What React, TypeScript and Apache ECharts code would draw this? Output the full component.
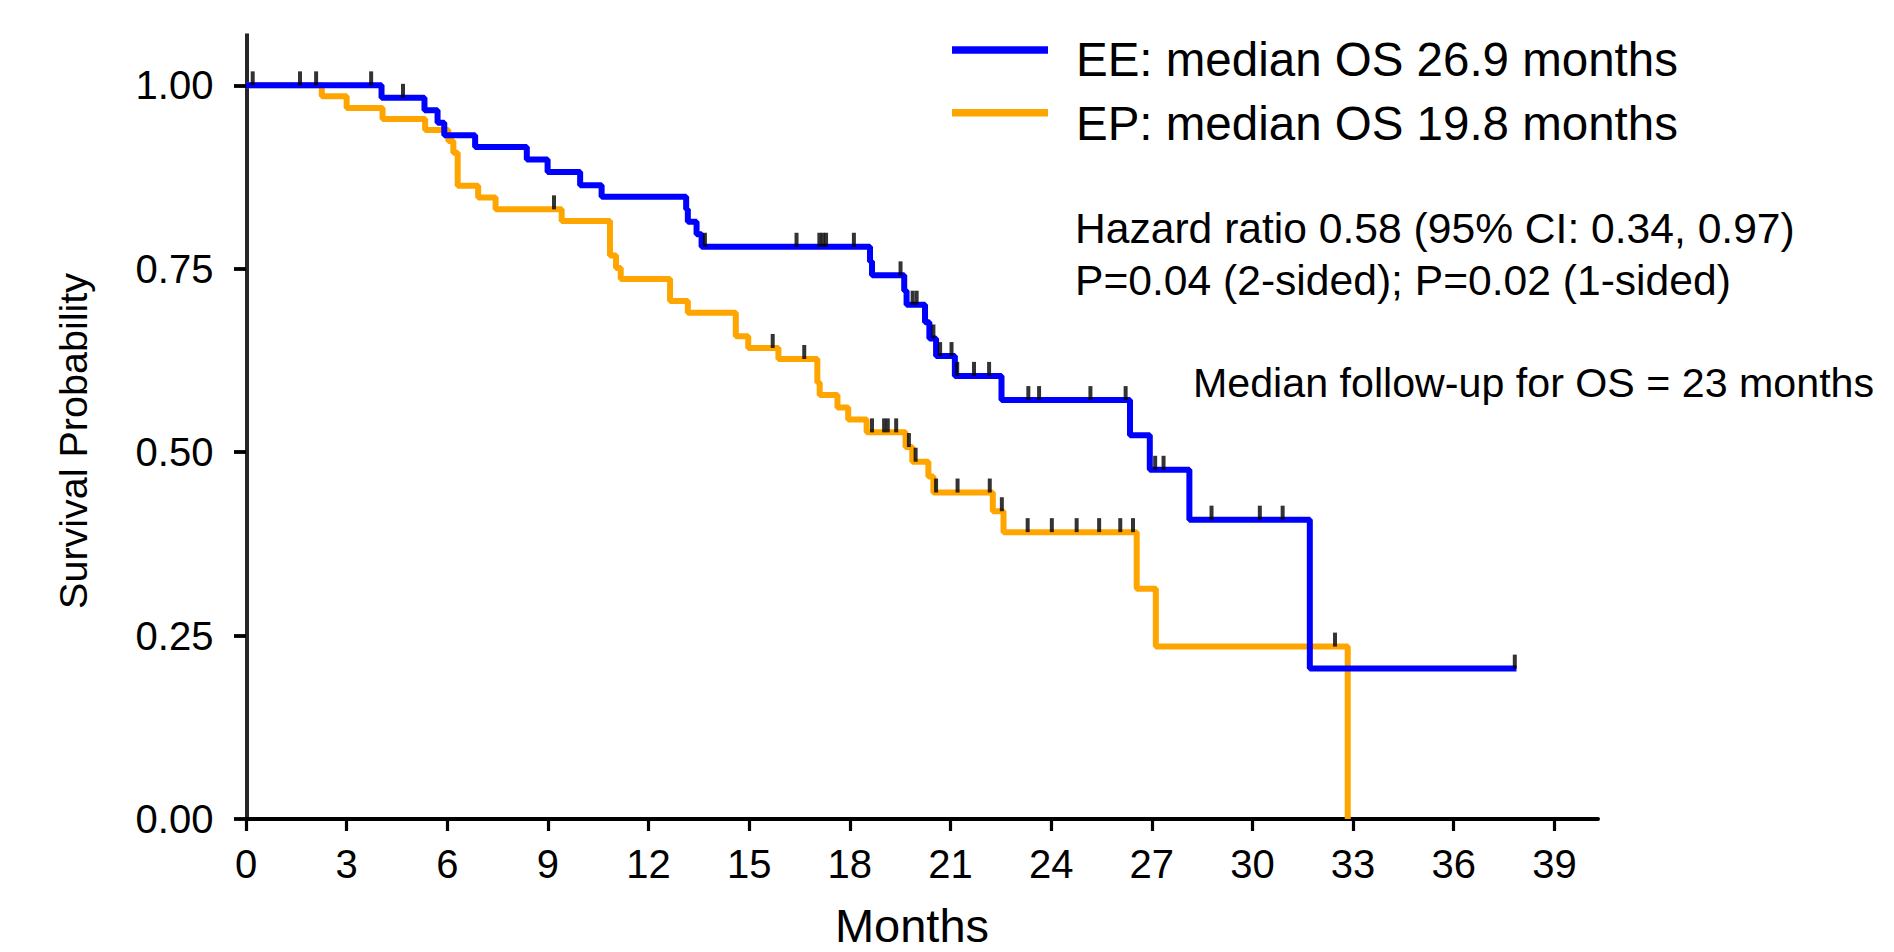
import React, { useEffect, useRef } from "react";
import * as echarts from "echarts";

const FONT = "'Liberation Sans', Arial, Helvetica, sans-serif";

// Axis ticks
const xTicks = [0, 3, 6, 9, 12, 15, 18, 21, 24, 27, 30, 33, 36, 39];
const yTicks = [0, 0.25, 0.5, 0.75, 1.0];

// EE arm (Kaplan-Meier steps: time in months, survival after the drop)
const eeTimes = [0, 4.04, 5.32, 5.71, 5.91, 6.83, 8.37, 8.99, 9.96, 10.6, 13.12, 13.17, 13.43, 13.58, 18.6, 18.66, 19.62, 19.69, 20.24, 20.37, 20.57, 21.13, 22.52, 26.35, 26.94, 28.12, 31.71, 37.87];
const eeSurv = [1.0, 0.983, 0.966, 0.949, 0.932, 0.916, 0.899, 0.882, 0.864, 0.848, 0.831, 0.814, 0.797, 0.78, 0.76, 0.741, 0.72, 0.701, 0.677, 0.655, 0.631, 0.604, 0.571, 0.523, 0.476, 0.408, 0.205, 0.205];

// EP arm
const epTimes = [0, 2.26, 3.0, 4.07, 5.34, 6.03, 6.18, 6.31, 6.92, 7.44, 9.41, 10.85, 11.03, 11.17, 12.64, 13.17, 14.6, 14.97, 15.87, 17.03, 17.1, 17.63, 17.95, 18.5, 19.66, 19.86, 20.34, 20.49, 22.26, 22.58, 26.55, 27.12, 32.84];
const epSurv = [1.0, 0.985, 0.969, 0.954, 0.939, 0.924, 0.908, 0.863, 0.847, 0.831, 0.815, 0.768, 0.751, 0.736, 0.706, 0.69, 0.658, 0.642, 0.627, 0.595, 0.578, 0.561, 0.5445, 0.527, 0.507, 0.487, 0.467, 0.445, 0.4195, 0.391, 0.314, 0.235, 0.0];

// Censoring marks
const eeCensTimes = [0.2, 1.61, 3.73, 4.68, 13.68, 16.41, 17.09, 17.19, 17.29, 18.12, 19.51, 19.87, 19.99, 20.49, 20.69, 21.03, 21.2, 21.7, 22.15, 23.32, 23.64, 25.17, 26.22, 27.1, 27.35, 28.78, 30.22, 30.9, 37.82];
const eeCensSurv = [1.0, 1.0, 1.0, 0.983, 0.78, 0.78, 0.78, 0.78, 0.78, 0.78, 0.741, 0.701, 0.701, 0.655, 0.631, 0.631, 0.604, 0.604, 0.604, 0.571, 0.571, 0.571, 0.571, 0.476, 0.476, 0.408, 0.408, 0.408, 0.205];
const epCensTimes = [2.09, 9.18, 15.7, 16.64, 18.66, 19.02, 19.13, 19.38, 19.76, 19.96, 20.57, 21.21, 22.17, 22.53, 23.3, 24.02, 24.76, 25.43, 26.06, 26.44, 32.46];
const epCensSurv = [1.0, 0.831, 0.642, 0.627, 0.527, 0.527, 0.527, 0.527, 0.507, 0.487, 0.445, 0.445, 0.445, 0.4195, 0.391, 0.391, 0.391, 0.391, 0.391, 0.391, 0.235];

const legendLabels = ["EE: median OS 26.9 months", "EP: median OS 19.8 months"];
const annotations = [
  "Hazard ratio 0.58 (95% CI: 0.34, 0.97)",
  "P=0.04 (2-sided); P=0.02 (1-sided)",
  "Median follow-up for OS = 23 months",
];

const BLUE = "#0000FF";
const ORANGE = "#FFA500";

const zip = (a: number[], b: number[]) => a.map((v, i) => [v, b[i]]);

export default function App() {
  const ref = useRef<HTMLDivElement>(null);

  useEffect(() => {
    if (!ref.current) return;
    const chart = echarts.init(ref.current, undefined, { renderer: "svg" });

    const censorStyle = {
      type: "scatter" as const,
      symbol: "rect",
      symbolSize: [4, 14],
      symbolOffset: [0, -7],
      itemStyle: { color: "#000" },
      z: 5,
      silent: true,
    };

    chart.setOption({
      animation: false,
      textStyle: { fontFamily: FONT },
      grid: { left: 246, right: 296, top: 34, bottom: 133, containLabel: false },
      xAxis: {
        type: "value",
        min: 0,
        max: 40.3,
        interval: 3,
        axisLine: { show: true, lineStyle: { color: "#000", width: 4 } },
        axisTick: { show: true, customValues: xTicks, length: 12, lineStyle: { color: "#000", width: 3.2 } },
        axisLabel: { customValues: xTicks, fontSize: 40, color: "#000", margin: 25, fontFamily: FONT },
        splitLine: { show: false },
      },
      yAxis: [
        {
          type: "value",
          min: 0,
          max: 1.07,
          position: "left",
          offset: 1.6,
          axisLine: { show: true, lineStyle: { color: "#000", width: 1.7 } },
          axisTick: { show: true, customValues: yTicks, length: 12, lineStyle: { color: "#000", width: 3.8 } },
          axisLabel: {
            customValues: yTicks,
            fontSize: 40,
            color: "#000",
            margin: 31,
            fontFamily: FONT,
            formatter: (v: number) => v.toFixed(2),
          },
          splitLine: { show: false },
        },
        {
          type: "value",
          min: 0,
          max: 1.07,
          position: "left",
          offset: -1.6,
          axisLine: { show: true, lineStyle: { color: "#000", width: 1.7 } },
          axisTick: { show: false },
          axisLabel: { show: false },
          splitLine: { show: false },
        },
      ],
      series: [
        {
          name: "EP",
          type: "line",
          step: "end",
          data: zip(epTimes, epSurv),
          showSymbol: false,
          lineStyle: { color: ORANGE, width: 6 },
          itemStyle: { color: ORANGE },
          z: 2,
          silent: true,
        },
        {
          name: "EE",
          type: "line",
          step: "end",
          data: zip(eeTimes, eeSurv),
          showSymbol: false,
          lineStyle: { color: BLUE, width: 6 },
          itemStyle: { color: BLUE },
          z: 3,
          silent: true,
        },
        { ...censorStyle, name: "EE censored", data: zip(eeCensTimes, eeCensSurv) },
        { ...censorStyle, name: "EP censored", data: zip(epCensTimes, epCensSurv) },
      ],
      graphic: [
        { type: "rect", shape: { x: 952, y: 46.2, width: 96, height: 7.6 }, style: { fill: BLUE } },
        { type: "rect", shape: { x: 952, y: 108.9, width: 96, height: 7.6 }, style: { fill: ORANGE } },
        {
          type: "text", x: 1076, y: 59,
          style: { text: legendLabels[0], fill: "#000", font: `47.5px ${FONT}`, align: "left", verticalAlign: "middle" },
        },
        {
          type: "text", x: 1076, y: 123,
          style: { text: legendLabels[1], fill: "#000", font: `47.5px ${FONT}`, align: "left", verticalAlign: "middle" },
        },
        {
          type: "text", x: 1075, y: 228,
          style: { text: annotations[0], fill: "#000", font: `42.6px ${FONT}`, align: "left", verticalAlign: "middle" },
        },
        {
          type: "text", x: 1075, y: 280,
          style: { text: annotations[1], fill: "#000", font: `42.6px ${FONT}`, align: "left", verticalAlign: "middle" },
        },
        {
          type: "text", x: 1193, y: 382.5,
          style: { text: annotations[2], fill: "#000", font: `41.2px ${FONT}`, align: "left", verticalAlign: "middle" },
        },
        {
          type: "text", x: 912, y: 925,
          style: { text: "Months", fill: "#000", font: `47px ${FONT}`, align: "center", verticalAlign: "middle" },
        },
        {
          type: "text", x: 73, y: 441, rotation: Math.PI / 2,
          style: { text: "Survival Probability", fill: "#000", font: `39.5px ${FONT}`, align: "center", verticalAlign: "middle" },
        },
      ],
    });

    return () => chart.dispose();
  }, []);

  return (
    <div
      ref={ref}
      style={{ position: "fixed", left: 0, top: 0, width: 1894, height: 952, background: "#fff" }}
    />
  );
}
